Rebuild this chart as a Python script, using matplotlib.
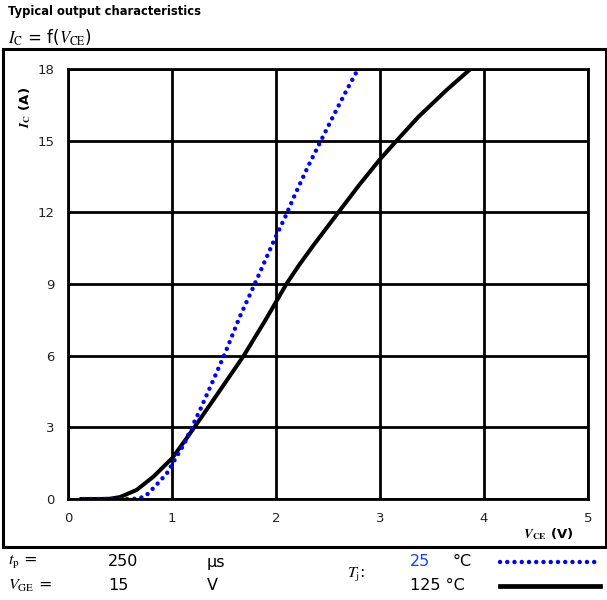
import matplotlib
matplotlib.use('Agg')
import matplotlib.pyplot as plt
from matplotlib.patches import Rectangle
from matplotlib.lines import Line2D

plt.rcParams['font.family'] = ['DejaVu Sans']
plt.rcParams['mathtext.fontset'] = 'stix'

# 25 degC curve (blue dotted)
vce_25 = [0.15, 0.40, 0.60, 0.68, 0.75, 0.85, 0.95, 1.03, 1.12, 1.17, 1.27, 1.39,
          1.51, 1.65, 1.81, 1.99, 2.09, 2.18, 2.31, 2.44, 2.58, 2.68, 2.79]
ic_25 = [0.0, 0.0, 0.0, 0.02, 0.14, 0.59, 1.07, 1.67, 2.33, 2.82, 3.73, 4.91,
         6.10, 7.61, 9.14, 10.91, 11.82, 12.72, 13.94, 15.07, 16.28, 17.12, 18.0]

# 125 degC curve (black solid)
vce_125 = [0.13, 0.30, 0.40, 0.50, 0.66, 0.82, 1.00, 1.14, 1.22, 1.43, 1.69, 1.90,
           2.10, 2.22, 2.36, 2.60, 2.81, 3.00, 3.16, 3.37, 3.64, 3.87]
ic_125 = [0.0, 0.0, 0.01, 0.08, 0.38, 0.93, 1.70, 2.54, 3.03, 4.35, 6.00, 7.50,
          9.00, 9.78, 10.62, 12.0, 13.2, 14.22, 15.0, 16.0, 17.12, 18.0]

x_ticks = [0, 1, 2, 3, 4, 5]
y_ticks = [0, 3, 6, 9, 12, 15, 18]

W, H = 607, 600
fig = plt.figure(figsize=(W / 100, H / 100), dpi=100)

ax = fig.add_axes([68 / W, 1 - 499 / H, 520 / W, 430 / H])
ax.set_xlim(0, 5)
ax.set_ylim(0, 18)
ax.set_xticks(x_ticks)
ax.set_yticks(y_ticks)
ax.tick_params(length=0, labelsize=9.5, colors='#222222')
ax.tick_params(axis='x', pad=9)
ax.tick_params(axis='y', pad=10)
ax.grid(True, color='black', linewidth=2.0)
for sp in ax.spines.values():
    sp.set_linewidth(2.0)
    sp.set_color('black')

dots = (0, (0.01, 1.62))
ax.plot(vce_125, ic_125, color='black', linewidth=2.9, solid_joinstyle='round')
ax.plot(vce_25, ic_25, color='#0000ff', linewidth=3.2,
        linestyle=dots, dash_capstyle='round')

# outer frame
fig.patches.append(Rectangle((3 / W, 1 - 547 / H), 603 / W, 498 / H,
                             transform=fig.transFigure, fill=False,
                             linewidth=2.2, edgecolor='black'))

# titles
fig.text(8 / W, 1 - 12 / H, 'Typical output characteristics', fontsize=8.3,
         fontweight='bold', va='center', ha='left')
fig.text(8 / W, 1 - 38 / H, r'$I_{\mathrm{C}}$ = f($V_{\mathrm{CE}}$)', fontsize=12,
         va='center', ha='left')

# axis labels
fig.text(25 / W, 1 - 107 / H, r'$\mathbfit{I}_{\mathbf{C}}$ (A)', fontsize=9.5,
         fontweight='bold', rotation=90, va='center', ha='center')
fig.text(548 / W, 1 - 534 / H, r'$\mathbfit{V}_{\mathbf{CE}}$ (V)', fontsize=9.5,
         fontweight='bold', va='center', ha='center')

# bottom conditions table
fs = 11.5
y1, y2, ym = 1 - 562 / H, 1 - 586 / H, 1 - 575 / H
fig.text(8 / W, y1, r'$t_{\mathrm{p}}$ =', fontsize=fs, va='center')
fig.text(108 / W, y1, '250', fontsize=fs, va='center')
fig.text(207 / W, y1, 'μs', fontsize=fs, va='center')
fig.text(8 / W, y2, r'$V_{\mathrm{GE}}$ =', fontsize=fs, va='center')
fig.text(108 / W, y2, '15', fontsize=fs, va='center')
fig.text(207 / W, y2, 'V', fontsize=fs, va='center')
fig.text(347 / W, ym, r'$T_{\mathrm{j}}$:', fontsize=fs, va='center')
fig.text(410 / W, y1, '25', fontsize=fs, va='center', color='#1a3cff')
fig.text(453 / W, y1, '°C', fontsize=fs, va='center')
fig.text(410 / W, y2, '125 °C', fontsize=fs, va='center')

fig.lines.append(Line2D([500 / W, 600 / W], [y1, y1], transform=fig.transFigure,
                        color='#0000ff', linewidth=3.2, linestyle=dots,
                        dash_capstyle='round'))
fig.lines.append(Line2D([500 / W, 600 / W], [y2, y2], transform=fig.transFigure,
                        color='black', linewidth=3.4))

fig.savefig('out.png', dpi=100)
